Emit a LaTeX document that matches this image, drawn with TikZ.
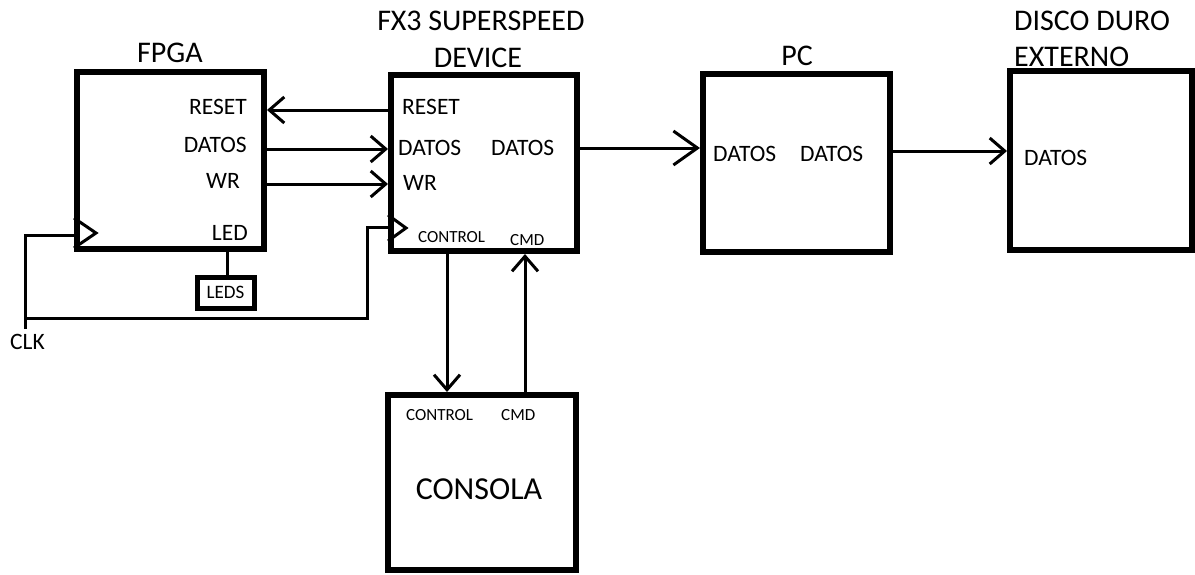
\documentclass[tikz,border=0pt]{standalone}
\usepackage{fontspec}
\setmainfont{Carlito}
\usetikzlibrary{arrows.meta}
\begin{document}
\begin{tikzpicture}[x=1pt,y=-1pt,
  box/.style={draw,line width=6pt,inner sep=0pt},
  ledbox/.style={draw,line width=5pt,inner sep=0pt},
  lbl/.style={inner sep=0pt,font=\fontsize{23.5}{27}\selectfont},
  small/.style={inner sep=0pt,font=\fontsize{17}{20}\selectfont},
  ttl/.style={inner sep=0pt,font=\fontsize{30}{35}\selectfont},
  big/.style={inner sep=0pt,font=\fontsize{32}{38}\selectfont},
  conn/.style={line width=3pt},
  arr/.style={-{Straight Barb[length=15pt,width=26pt]}},
  bigarr/.style={-{Straight Barb[length=24pt,width=34pt]}}]
\useasboundingbox[fill=white] (0,0) rectangle (1195,574);
% boxes
\node[box,minimum width=187pt,minimum height=177pt] (fpga) at (170.5,160.5) {};
\node[box,minimum width=186pt,minimum height=176pt] (fx3) at (484,163) {};
\node[box,minimum width=187pt,minimum height=178pt] (pc) at (796.5,163) {};
\node[box,minimum width=182pt,minimum height=179pt] (disco) at (1101,160.5) {};
\node[box,minimum width=188pt,minimum height=175pt] (consola) at (482,482.5) {};
\node[ledbox,minimum width=57pt,minimum height=31pt,font=\fontsize{19}{22}\selectfont] (leds) at (225.5,292.5) {LEDS};
% titles
\node[ttl] (tfpga) at (170,53) {FPGA};
\node[ttl] (tfx3a) at (481,21) {FX3 SUPERSPEED};
\node[ttl] (tfx3b) at (478,58) {DEVICE};
\node[ttl] (tpc) at (797,56) {PC};
\node[ttl,anchor=west] (tdia) at (1014,21) {DISCO DURO};
\node[ttl,anchor=west] (tdib) at (1014,57) {EXTERNO};
% FPGA labels
\node[lbl,anchor=east] (fres) at (247,107) {RESET};
\node[lbl,anchor=east] (fdat) at (247,145) {DATOS};
\node[lbl,anchor=east] (fwr) at (240,181) {WR};
\node[lbl,anchor=east] (fled) at (248,233) {LED};
% FX3 labels
\node[lbl,anchor=west] (xres) at (402,107) {RESET};
\node[lbl,anchor=west] (xdat) at (398,148) {DATOS};
\node[lbl,anchor=west] (xwr) at (403,183) {WR};
\node[lbl,anchor=west] (xdat2) at (491,148) {DATOS};
\node[small,anchor=west] (xctl) at (418,237) {CONTROL};
\node[small,anchor=west] (xcmd) at (510,240) {CMD};
% PC labels
\node[lbl,anchor=west] (pdat1) at (713,154) {DATOS};
\node[lbl,anchor=west] (pdat2) at (800,154) {DATOS};
% Disco label
\node[lbl,anchor=west] (ddat) at (1024,158) {DATOS};
% Consola labels
\node[small,anchor=west] (cctl) at (406,415) {CONTROL};
\node[small,anchor=west] (ccmd) at (501,415) {CMD};
\node[big] (ccon) at (479,489) {CONSOLA};
% CLK
\node[lbl,anchor=west] (clklbl) at (10,342) {CLK};
\coordinate (clk) at (25,329);
\coordinate (clkj) at (25,318);
\coordinate (clkb) at (367,227);
% connectors
\draw[conn,arr] (fx3.west |- 0,110) -- (fpga.east |- 0,110);
\draw[conn,arr] (fpga.east |- 0,149) -- (fx3.west |- 0,149);
\draw[conn,arr] (fpga.east |- 0,184) -- (fx3.west |- 0,184);
\draw[conn,bigarr] (fx3.east |- 0,148) -- (pc.west |- 0,148);
\draw[conn,arr] (pc.east |- 0,151) -- (disco.west |- 0,151);
\draw[conn,arr] (fx3.south -| 447,0) -- (consola.north -| 447,0);
\draw[conn,arr] (consola.north -| 525,0) -- (fx3.south -| 525,0);
\draw[conn] (fpga.south -| 227,0) -- (leds.north -| 227,0);
\draw[conn] (clk) |- (fpga.west |- 0,235);
\draw[conn] (clkj) -| (clkb) -- (fx3.west |- clkb);
% clock triangles
\draw[conn] (fpga.west |- 0,218) -- (96,233) -- (fpga.west |- 0,248);
\draw[conn] (fx3.west |- 0,215) -- (406,228) -- (fx3.west |- 0,241);
\end{tikzpicture}
\end{document}
